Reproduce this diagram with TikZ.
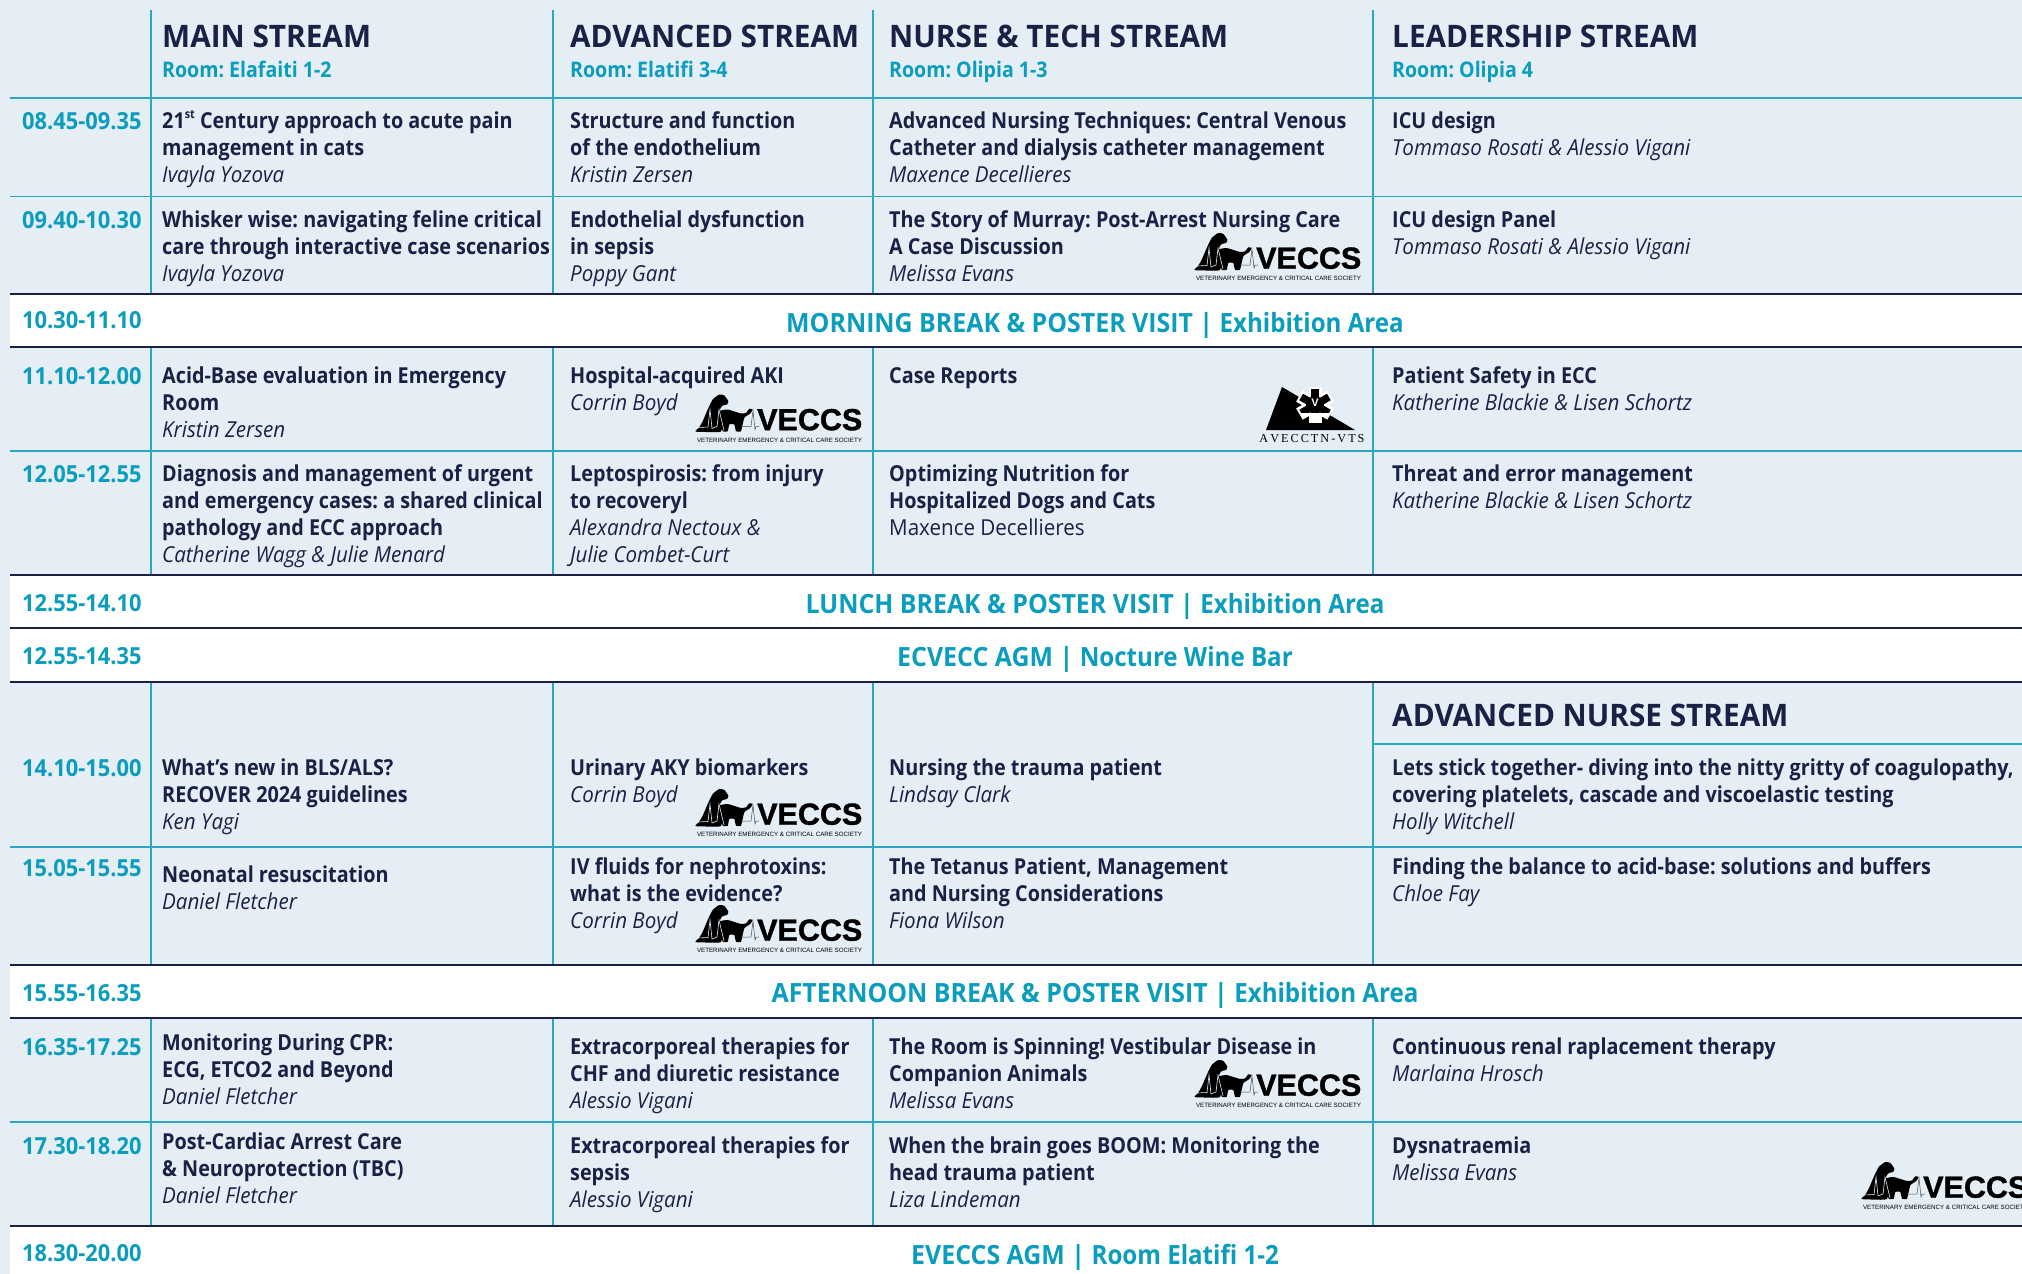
\documentclass[tikz,border=0pt]{standalone}
\usepackage{fontspec}
\frenchspacing
\setmainfont[FakeStretch=0.90]{Open Sans}
\newfontfamily\itf[FakeStretch=0.935]{Open Sans}
\newfontfamily\headf[FakeStretch=0.96]{Open Sans}
\newfontfamily\timef[FakeStretch=0.93]{Open Sans}
\newfontfamily\roomf[FakeStretch=0.91]{Open Sans}
\newfontfamily\bandf[FakeStretch=0.94]{Open Sans}
\newfontfamily\bandrf[FakeStretch=0.91]{Open Sans}
\newfontfamily\logofont{Liberation Sans}
\newfontfamily\logoheavy[FakeBold=1.2]{Liberation Sans}
\newfontfamily\logoserif{Liberation Serif}
\definecolor{pagebg}{HTML}{E5EDF5}
\definecolor{navy}{HTML}{1B2145}
\definecolor{teal2}{HTML}{0A9DBD}
\definecolor{rule2}{HTML}{2BA6C4}
\newcommand{\spk}[1]{{\itf\mdseries\itshape #1}}
\newcommand{\reg}[1]{{\itf\mdseries #1}}
\newcommand{\breg}[1]{{\bandrf\bfseries #1}}
\newcommand{\cellt}[4]{\node[celltext] (#1) at (#2,#3-21) {\rule{0pt}{21pt}#4};}
\newcommand{\timet}[3]{\node[timetext] (#1) at (22,#2) {#3};}
\newcommand{\headt}[5]{\node[headtext] (#1) at (#2,47) {#3};\node[roomtext] (#1r) at (#2,77) {#4};}
\newcommand{\bandt}[3]{\node[bandtext] (#1) at (1095,#2) {#3};}
\tikzset{
  celltext/.style={anchor=north west,inner sep=0pt,align=left,text=navy,font=\fontsize{22}{27}\selectfont\bfseries},
  timetext/.style={anchor=base west,inner sep=0pt,text=teal2,yshift=-1pt,font=\timef\fontsize{23.5}{26}\selectfont\bfseries},
  headtext/.style={anchor=base west,inner sep=0pt,text=navy,font=\headf\fontsize{31}{34}\selectfont\bfseries},
  roomtext/.style={anchor=base west,inner sep=0pt,text=teal2,font=\roomf\fontsize{21.5}{26}\selectfont\bfseries},
  bandtext/.style={anchor=base,inner sep=0pt,text=teal2,yshift=-1pt,font=\bandf\fontsize{26.5}{30}\selectfont\bfseries},
  teal rule/.style={draw=rule2,line width=1.5pt},
  dark rule/.style={draw=navy,line width=1.8pt},
  vecsbig/.style={anchor=base west,inner sep=0pt,font=\logoheavy\bfseries\fontsize{30.5}{32}\selectfont},
  vecssmall/.style={anchor=base,inner sep=0pt,font=\logofont\fontsize{6.2}{8}\selectfont},
  veccs/.pic={
    \fill[black] plot[smooth cycle,tension=0.35] coordinates {(0.5,37) (4,33) (7.7,26.7) (12.7,15) (17.7,5) (24.3,0) (29.3,1) (33.3,6.7) (32,10) (27.7,11) (25,15) (27,24) (26,37) (12,37.5)};
    \fill[black] plot[smooth cycle,tension=0.25] coordinates {(24.3,16.7) (32.7,15) (46,19) (51,18.3) (54.3,14.3) (57.7,15) (55.3,19) (49.3,23.3) (46,36.7) (41,36.7) (39.3,30) (34.3,30) (32.7,36.7) (27.7,36.7) (25.3,26.7)};
    \draw[pagebg,line width=0.6pt] (3,33) -- (13,32.5) -- (15,15) -- (17,34) -- (22,32) -- (24,15) -- (29,36);
    \draw[black!70,line width=0.5pt] (46,32) -- (56,32) -- (58,16) -- (60,35) -- (61,32) -- (64,32);
    \node[vecsbig] (big) at (62,35.7) {VECCS};
    \node[vecssmall] (small) at (84.5,47.5) {VETERINARY EMERGENCY \& CRITICAL CARE SOCIETY};
  }
}
\begin{document}
\begin{tikzpicture}[x=1pt,y=-1pt]
\useasboundingbox (0,0) rectangle (2022,1274);
\clip (0,0) rectangle (2022,1274);
\fill[pagebg] (0,0) rectangle (2022,1274);
% white bands
\fill[white] (10,294) rectangle (2022,347);
\fill[white] (10,575) rectangle (2022,682);
\fill[white] (10,965) rectangle (2022,1018);
\fill[white] (10,1226) rectangle (2022,1274);
% vertical rules
\foreach \xx in {151,553,873,1373}{
  \draw[teal rule] (\xx,10) -- (\xx,294);
  \draw[teal rule] (\xx,347) -- (\xx,575);
  \draw[teal rule] (\xx,682) -- (\xx,965);
  \draw[teal rule] (\xx,1018) -- (\xx,1226);
}
% horizontal rules
\foreach \yy in {98,196.5,451,847,1122}{\draw[teal rule] (10,\yy) -- (2022,\yy);}
\draw[teal rule] (1373,744) -- (2022,744);
\foreach \yy in {294,347,575,628,682,965,1018,1226}{\draw[dark rule] (10,\yy) -- (2022,\yy);}
% headers
\headt{h1}{162}{MAIN STREAM}{Room: Elafaiti 1-2}{}
\headt{h2}{570}{ADVANCED STREAM}{Room: Elatifi 3-4}{}
\headt{h3}{889}{NURSE \& TECH STREAM}{Room: Olipia 1-3}{}
\headt{h4}{1392}{LEADERSHIP STREAM}{Room: Olipia 4}{}
\node[headtext] (h5) at (1392,726) {ADVANCED NURSE STREAM};
% times
\timet{t1}{128}{08.45-09.35}
\timet{t2}{227}{09.40-10.30}
\timet{t3}{327}{10.30-11.10}
\timet{t4}{383}{11.10-12.00}
\timet{t5}{481}{12.05-12.55}
\timet{t6}{610}{12.55-14.10}
\timet{t7}{663}{12.55-14.35}
\timet{t8}{775}{14.10-15.00}
\timet{t9}{875}{15.05-15.55}
\timet{t10}{1000}{15.55-16.35}
\timet{t11}{1054}{16.35-17.25}
\timet{t12}{1153}{17.30-18.20}
\timet{t13}{1260}{18.30-20.00}
% bands
\bandt{b1}{331}{MORNING BREAK \& POSTER VISIT | \breg{Exhibition Area}}
\bandt{b2}{612}{LUNCH BREAK \& POSTER VISIT | \breg{Exhibition Area}}
\bandt{b3}{665}{ECVECC AGM | \breg{Nocture Wine Bar}}
\bandt{b4}{1001}{AFTERNOON BREAK \& POSTER VISIT | \breg{Exhibition Area}}
\bandt{b5}{1263}{EVECCS AGM | \breg{Room Elatifi 1-2}}
% row 1
\cellt{a1}{162}{128}{21\raisebox{0.42em}{\fontsize{12}{12}\selectfont st} Century approach to acute pain\\management in cats\\\spk{Ivayla Yozova}}
\cellt{a2}{570}{128}{Structure and function\\of the endothelium\\\spk{Kristin Zersen}}
\cellt{a3}{889}{128}{Advanced Nursing Techniques: Central Venous\\Catheter and dialysis catheter management\\\spk{Maxence Decellieres}}
\cellt{a4}{1392}{128}{ICU design\\\spk{Tommaso Rosati \& Alessio Vigani}}
% row 2
\cellt{b1c}{162}{227}{Whisker wise: navigating feline critical\\care through interactive case scenarios\\\spk{Ivayla Yozova}}
\cellt{b2c}{570}{227}{Endothelial dysfunction\\in sepsis\\\spk{Poppy Gant}}
\cellt{b3c}{889}{227}{The Story of Murray: Post-Arrest Nursing Care\\A Case Discussion\\\spk{Melissa Evans}}
\cellt{b4c}{1392}{227}{ICU design Panel\\\spk{Tommaso Rosati \& Alessio Vigani}}
% row 3
\cellt{c1}{162}{383}{Acid-Base evaluation in Emergency\\Room\\\spk{Kristin Zersen}}
\cellt{c2}{570}{383}{Hospital-acquired AKI\\\spk{Corrin Boyd}}
\cellt{c3}{889}{383}{Case Reports}
\cellt{c4}{1392}{383}{Patient Safety in ECC\\\spk{Katherine Blackie \& Lisen Schortz}}
% row 4
\cellt{d1}{162}{481}{Diagnosis and management of urgent\\and emergency cases: a shared clinical\\pathology and ECC approach\\\spk{Catherine Wagg \& Julie Menard}}
\cellt{d2}{570}{481}{Leptospirosis: from injury\\to recoveryl\\\spk{Alexandra Nectoux \&}\\\spk{Julie Combet-Curt}}
\cellt{d3}{889}{481}{Optimizing Nutrition for\\Hospitalized Dogs and Cats\\\reg{Maxence Decellieres}}
\cellt{d4}{1392}{481}{Threat and error management\\\spk{Katherine Blackie \& Lisen Schortz}}
% row 5
\cellt{e1}{162}{775}{What’s new in BLS/ALS?\\RECOVER 2024 guidelines\\\spk{Ken Yagi}}
\cellt{e2}{570}{775}{Urinary AKY biomarkers\\\spk{Corrin Boyd}}
\cellt{e3}{889}{775}{Nursing the trauma patient\\\spk{Lindsay Clark}}
\cellt{e4}{1392}{775}{Lets stick together- diving into the nitty gritty of coagulopathy,\\covering platelets, cascade and viscoelastic testing\\\spk{Holly Witchell}}
% row 6
\cellt{f1}{162}{882}{Neonatal resuscitation\\\spk{Daniel Fletcher}}
\cellt{f2}{570}{874}{IV fluids for nephrotoxins:\\what is the evidence?\\\spk{Corrin Boyd}}
\cellt{f3}{889}{874}{The Tetanus Patient, Management\\and Nursing Considerations\\\spk{Fiona Wilson}}
\cellt{f4}{1392}{874}{Finding the balance to acid-base: solutions and buffers\\\spk{Chloe Fay}}
% row 7
\cellt{g1}{162}{1050}{Monitoring During CPR:\\ECG, ETCO2 and Beyond\\\spk{Daniel Fletcher}}
\cellt{g2}{570}{1054}{Extracorporeal therapies for\\CHF and diuretic resistance\\\spk{Alessio Vigani}}
\cellt{g3}{889}{1054}{The Room is Spinning! Vestibular Disease in\\Companion Animals\\\spk{Melissa Evans}}
\cellt{g4}{1392}{1054}{Continuous renal raplacement therapy\\\spk{Marlaina Hrosch}}
% row 8
\cellt{k1}{162}{1149}{Post-Cardiac Arrest Care\\\& Neuroprotection (TBC)\\\spk{Daniel Fletcher}}
\cellt{k2}{570}{1153}{Extracorporeal therapies for\\sepsis\\\spk{Alessio Vigani}}
\cellt{k3}{889}{1153}{When the brain goes BOOM: Monitoring the\\head trauma patient\\\spk{Liza Lindeman}}
\cellt{k4}{1392}{1153}{Dysnatraemia\\\spk{Melissa Evans}}
% logos
\pic (l1) at (1194,233) {veccs};
\pic (l2) at (695,394.5) {veccs};
\pic (l3) at (695,789) {veccs};
\pic (l4) at (695,905) {veccs};
\pic (l5) at (1194,1060) {veccs};
\pic (l6) at (1861,1162) {veccs};
% AVECCTN logo
\fill[black] (1282,387) -- (1266,430) -- (1355,430) -- cycle;
\begin{scope}[shift={(1315,405)}]
  \foreach \aa in {90,30,150}{\draw[white,line width=13pt] (\aa:-18) -- (\aa:18);}
  \begin{scope}
    \clip (-22,-22) rectangle (22,7);
    \foreach \aa in {90,30,150}{\draw[black,line width=7.5pt] (\aa:-16) -- (\aa:16);}
    \fill[black] (0,0) circle (9);
  \end{scope}
  \node[anchor=center,inner sep=0pt,text=white,font=\logofont\bfseries\fontsize{11}{11}\selectfont] (starv) at (0,-2) {V};
\end{scope}
\node[anchor=base,inner sep=0pt,font=\logoserif\fontsize{12.2}{12}\selectfont] (avtext) at (1312,442) {A\,V\,E\,C\,C\,T\,N\,-\,V\,T\,S};
\end{tikzpicture}
\end{document}
